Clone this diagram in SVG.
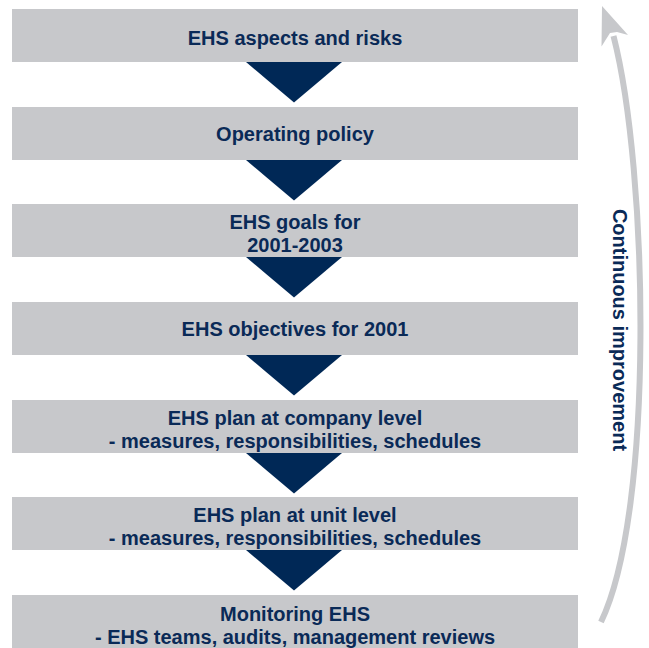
<svg xmlns="http://www.w3.org/2000/svg" width="649" height="648" viewBox="0 0 649 648">
  <style>
    .box { fill: #c7c8cb; }
    .lbl { font-family: "Liberation Sans", Arial, Helvetica, sans-serif; font-weight: bold; font-size: 20px; fill: #0a2a57; text-anchor: middle; }
    .step { fill: #002856; }
    .loop { fill: none; stroke: #c7c8cb; stroke-width: 6; }
    .loophead { fill: #c7c8cb; }
  </style>
  <rect width="649" height="648" fill="#ffffff"/>

  <!-- process steps -->
  <g id="aspects">
    <rect class="box" x="12" y="9" width="566" height="53"/>
    <text class="lbl" x="295" y="45">EHS aspects and risks</text>
  </g>
  <g id="policy">
    <rect class="box" x="12" y="107" width="566" height="53"/>
    <text class="lbl" x="295" y="141">Operating policy</text>
  </g>
  <g id="goals">
    <rect class="box" x="12" y="204" width="566" height="53"/>
    <text class="lbl" x="295" y="228.5">EHS goals for</text>
    <text class="lbl" x="295" y="251.5">2001-2003</text>
  </g>
  <g id="objectives">
    <rect class="box" x="12" y="302" width="566" height="53"/>
    <text class="lbl" x="295" y="336">EHS objectives for 2001</text>
  </g>
  <g id="company-plan">
    <rect class="box" x="12" y="400" width="566" height="53"/>
    <text class="lbl" x="295" y="424.5">EHS plan at company level</text>
    <text class="lbl" x="295" y="447.5">- measures, responsibilities, schedules</text>
  </g>
  <g id="unit-plan">
    <rect class="box" x="12" y="497" width="566" height="53"/>
    <text class="lbl" x="295" y="521.5">EHS plan at unit level</text>
    <text class="lbl" x="295" y="544.5">- measures, responsibilities, schedules</text>
  </g>
  <g id="monitoring">
    <rect class="box" x="12" y="595" width="566" height="53"/>
    <text class="lbl" x="295" y="620.5">Monitoring EHS</text>
    <text class="lbl" x="295" y="643.5">- EHS teams, audits, management reviews</text>
  </g>

  <!-- connectors -->
  <g id="connectors">
    <polygon class="step" points="246,62 342,62 294,102.5"/>
    <polygon class="step" points="246,160 342,160 294,200.5"/>
    <polygon class="step" points="246,257 342,257 294,297.5"/>
    <polygon class="step" points="246,355 342,355 294,395.5"/>
    <polygon class="step" points="246,453 342,453 294,493.5"/>
    <polygon class="step" points="246,550 342,550 294,590.5"/>

    <!-- feedback loop back to the top -->
    <path class="loop" d="M601,622 C655,510 648,170 613.5,36"/>
    <polygon class="loophead" points="602,6 628,35 617,32 610,33 601.5,46.5"/>
  </g>

  <g id="loop-label">
    <text class="lbl" x="613" y="330" transform="rotate(90 613 330)">Continuous improvement</text>
  </g>
</svg>
